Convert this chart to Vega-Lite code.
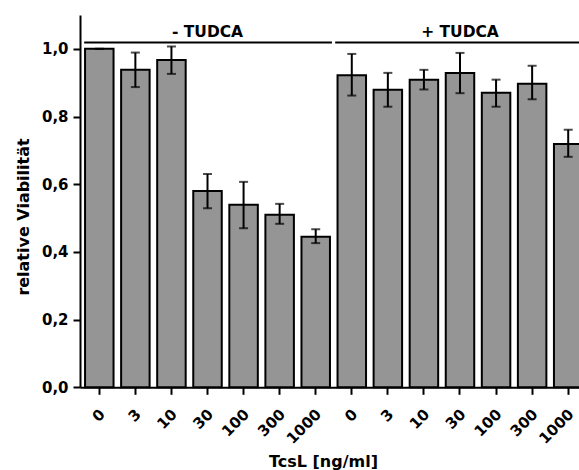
{
  "$schema": "https://vega.github.io/schema/vega-lite/v6.json",
  "width": 507.5,
  "height": 372.3,
  "autosize": {"type": "none"},
  "padding": {"left": 80, "top": 15, "right": 0, "bottom": 83},
  "background": "white",
  "config": {
    "view": {"stroke": null},
    "font": "DejaVu Sans",
    "axis": {
      "grid": false,
      "domainColor": "black",
      "domainWidth": 2,
      "tickColor": "black",
      "tickWidth": 2,
      "labelFont": "DejaVu Sans",
      "labelFontWeight": "bold",
      "labelFontSize": 15,
      "labelColor": "black",
      "titleFont": "DejaVu Sans",
      "titleFontWeight": "bold",
      "titleFontSize": 16,
      "titleColor": "black"
    }
  },
  "datasets": {
    "bars": [
      {"cond": "-|0", "value": 1.0, "lo": 1.0, "hi": 1.0},
      {"cond": "-|3", "value": 0.938, "lo": 0.887, "hi": 0.989},
      {"cond": "-|10", "value": 0.967, "lo": 0.926, "hi": 1.007},
      {"cond": "-|30", "value": 0.58, "lo": 0.529, "hi": 0.63},
      {"cond": "-|100", "value": 0.539, "lo": 0.47, "hi": 0.607},
      {"cond": "-|300", "value": 0.51, "lo": 0.483, "hi": 0.542},
      {"cond": "-|1000", "value": 0.445, "lo": 0.426, "hi": 0.467},
      {"cond": "+|0", "value": 0.922, "lo": 0.862, "hi": 0.985},
      {"cond": "+|3", "value": 0.879, "lo": 0.829, "hi": 0.929},
      {"cond": "+|10", "value": 0.909, "lo": 0.88, "hi": 0.938},
      {"cond": "+|30", "value": 0.929, "lo": 0.869, "hi": 0.988},
      {"cond": "+|100", "value": 0.87, "lo": 0.829, "hi": 0.909},
      {"cond": "+|300", "value": 0.897, "lo": 0.851, "hi": 0.95},
      {"cond": "+|1000", "value": 0.719, "lo": 0.681, "hi": 0.761}
    ],
    "groups": [
      {"label": "- TUDCA", "mid": 3, "from": -0.42, "to": 6.45},
      {"label": "+ TUDCA", "mid": 10, "from": 6.54, "to": 13.7}
    ]
  },
  "layer": [
    {
      "data": {"name": "bars"},
      "mark": {"type": "bar", "fill": "#959595", "stroke": "black", "strokeWidth": 2},
      "encoding": {
        "x": {
          "field": "cond", "type": "nominal", "sort": null,
          "scale": {"type": "band", "paddingInner": 0.21, "paddingOuter": 0.14},
          "axis": {
            "labelExpr": "split(datum.label, '|')[1]",
            "labelAngle": -45,
            "labelAlign": "right",
            "labelBaseline": "middle",
            "labelPadding": 17,
            "labelOffset": 3,
            "tickSize": 7,
            "title": "TcsL [ng/ml]",
            "titleX": 243,
            "titleY": 79.5,
            "titleBaseline": "alphabetic",
            "titleAlign": "center"
          }
        },
        "y": {
          "field": "value", "type": "quantitative",
          "scale": {"domain": [0, 1.1], "nice": false, "zero": true},
          "axis": {
            "values": [0, 0.2, 0.4, 0.6, 0.8, 1.0],
            "labelExpr": "replace(format(datum.value, '.1f'), '.', ',')",
            "tickSize": 7,
            "labelPadding": 5,
            "title": "relative Viabilität",
            "titleX": -52,
            "titleY": 201.5,
            "titleAngle": -90,
            "titleBaseline": "alphabetic",
            "titleAlign": "center"
          }
        }
      }
    },
    {
      "data": {"name": "bars"},
      "mark": {"type": "rule", "color": "black", "strokeWidth": 2},
      "encoding": {
        "x": {"field": "cond", "type": "nominal", "sort": null,
              "scale": {"type": "band", "paddingInner": 0.21, "paddingOuter": 0.14}, "axis": null},
        "y": {"field": "lo", "type": "quantitative",
              "scale": {"domain": [0, 1.1], "nice": false},
              "axis": {"values": [0.1, 0.3, 0.5, 0.7, 0.9, 1.1], "labels": false, "domain": false, "tickSize": 4, "title": null}},
        "y2": {"field": "hi"}
      }
    },
    {
      "data": {"name": "bars"},
      "mark": {"type": "tick", "color": "black", "thickness": 2, "size": 9, "orient": "horizontal"},
      "encoding": {
        "x": {"field": "cond", "type": "nominal", "sort": null,
              "scale": {"type": "band", "paddingInner": 0.21, "paddingOuter": 0.14}, "axis": null},
        "y": {"field": "lo", "type": "quantitative", "scale": {"domain": [0, 1.1], "nice": false}, "axis": null}
      }
    },
    {
      "data": {"name": "bars"},
      "mark": {"type": "tick", "color": "black", "thickness": 2, "size": 9, "orient": "horizontal"},
      "encoding": {
        "x": {"field": "cond", "type": "nominal", "sort": null,
              "scale": {"type": "band", "paddingInner": 0.21, "paddingOuter": 0.14}, "axis": null},
        "y": {"field": "hi", "type": "quantitative", "scale": {"domain": [0, 1.1], "nice": false}, "axis": null}
      }
    },
    {
      "data": {"name": "groups"},
      "mark": {"type": "rule", "color": "black", "strokeWidth": 2},
      "encoding": {
        "x": {"field": "from", "type": "quantitative", "scale": {"domain": [-0.535, 13.535], "nice": false, "zero": false}, "axis": null},
        "x2": {"field": "to"},
        "y": {"datum": 1.019, "type": "quantitative", "scale": {"domain": [0, 1.1], "nice": false}, "axis": null}
      }
    },
    {
      "data": {"name": "groups"},
      "mark": {"type": "text", "font": "DejaVu Sans", "fontWeight": "bold", "fontSize": 15.5, "color": "black", "baseline": "alphabetic", "align": "center"},
      "encoding": {
        "x": {"field": "mid", "type": "quantitative", "scale": {"domain": [-0.535, 13.535], "nice": false, "zero": false}, "axis": null},
        "y": {"datum": 1.036, "type": "quantitative", "scale": {"domain": [0, 1.1], "nice": false}, "axis": null},
        "text": {"field": "label"}
      }
    }
  ],
  "resolve": {
    "scale": {"x": "independent"},
    "axis": {"x": "independent", "y": "independent"}
  }
}
